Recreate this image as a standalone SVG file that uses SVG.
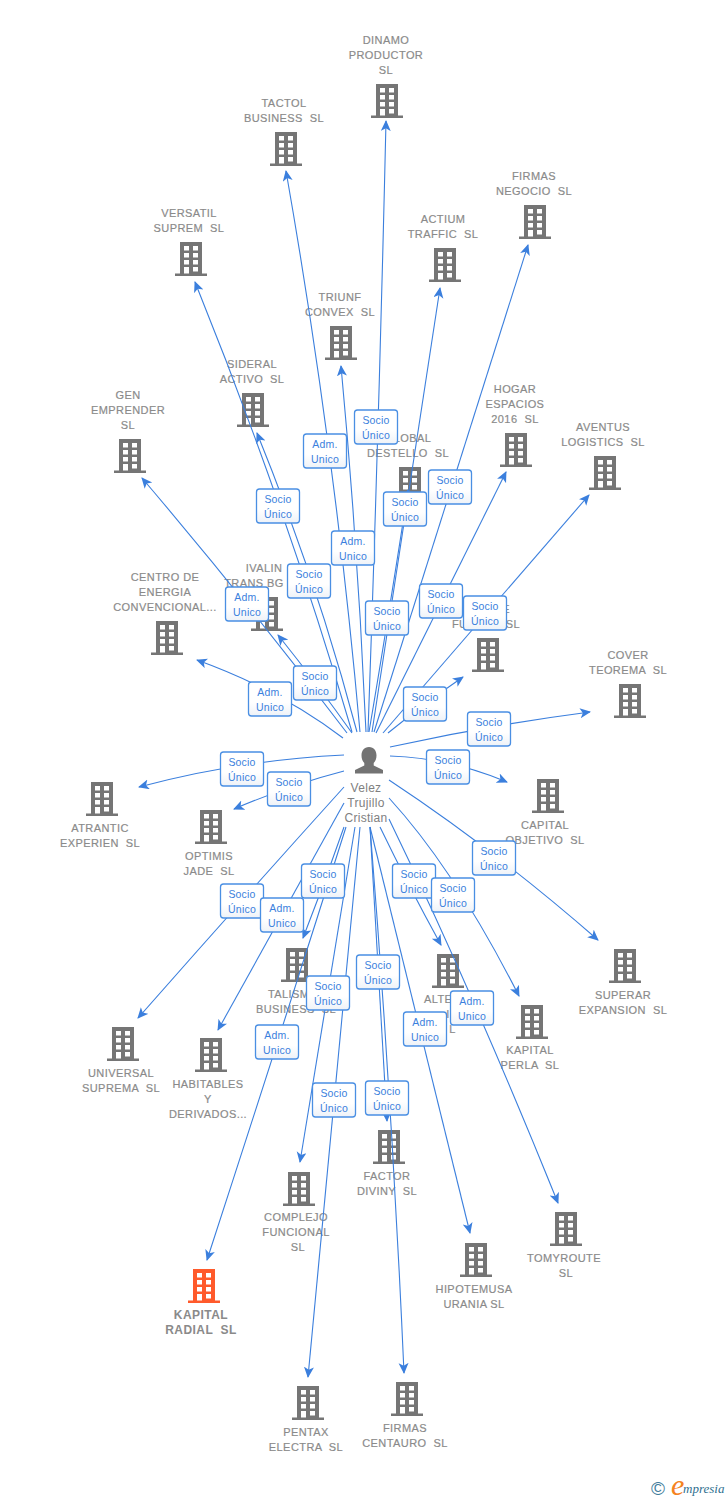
<svg xmlns="http://www.w3.org/2000/svg" width="728" height="1500" viewBox="0 0 728 1500">
<defs>
<linearGradient id="bf" x1="0" y1="0" x2="0" y2="1"><stop offset="0" stop-color="#fff"/><stop offset="0.6" stop-color="#fff"/><stop offset="1" stop-color="#eef2f8"/></linearGradient>
<marker id="ah" markerWidth="13" markerHeight="11" refX="10" refY="5" orient="auto" markerUnits="userSpaceOnUse"><path d="M0 0L11 5L0 10L2.800 5Z" fill="#3b7fdd"/></marker>
<symbol id="b" viewBox="0 0 32 34" width="32" height="34" overflow="visible">
<path fill-rule="evenodd" d="M5 0H27V31.500H32V34H0V31.500H5ZM9 4V8.500H14V4ZM18 4V8.500H23V4ZM9 11V15.500H14V11ZM18 11V15.500H23V11ZM9 18V22.500H14V18ZM18 18V22.500H23V18ZM9 25V31.500H14V25ZM18 25V29.500H23V25Z"/>
</symbol>
<g id="su"><rect x="-21.500" y="-17" width="43" height="34" rx="3" class="lb"/><text class="lt" y="-3.500">Socio</text><text class="lt" y="11.500">Único</text></g>
<g id="au"><rect x="-21.500" y="-17" width="43" height="34" rx="3" class="lb"/><text class="lt" y="-3.500">Adm.</text><text class="lt" y="11.500">Unico</text></g>
</defs>
<style>
.e{fill:none;stroke:#3b7fdd;stroke-width:1.1;marker-end:url(#ah)}
.lb{fill:url(#bf);stroke:#4a8fe3;stroke-width:1.3}
.lt{font:10.500px "Liberation Sans",Arial,sans-serif;fill:#3b7fdd;text-anchor:middle;letter-spacing:.2px}
.n text{font:11px "Liberation Sans",Arial,sans-serif;fill:#8a8a8a;stroke:#8a8a8a;stroke-width:.18;text-anchor:middle;white-space:pre;letter-spacing:.42px}
.n use{fill:#757575}
.n .r use{fill:#ff5a2b}
.n .r text{font:bold 12px "Liberation Sans",Arial,sans-serif;stroke:none;letter-spacing:.45px}
.p{font:12px "Liberation Sans",Arial,sans-serif;fill:#808080;text-anchor:middle;letter-spacing:.3px}
</style>
<g class="n">
<g id="n1"><use href="#b" x="371" y="84"/><text x="386" y="44">DINAMO</text><text x="386" y="59">PRODUCTOR</text><text x="386" y="74">SL</text></g>
<g id="n2"><use href="#b" x="270" y="132"/><text x="284" y="107">TACTOL</text><text x="284" y="122">BUSINESS  SL</text></g>
<g id="n3"><use href="#b" x="175" y="242"/><text x="189" y="217">VERSATIL</text><text x="189" y="232">SUPREM  SL</text></g>
<g id="n4"><use href="#b" x="519" y="205"/><text x="534" y="180">FIRMAS</text><text x="534" y="195">NEGOCIO  SL</text></g>
<g id="n5"><use href="#b" x="429" y="248"/><text x="443" y="223">ACTIUM</text><text x="443" y="238">TRAFFIC  SL</text></g>
<g id="n6"><use href="#b" x="325" y="326"/><text x="340" y="301">TRIUNF</text><text x="340" y="316">CONVEX  SL</text></g>
<g id="n7"><use href="#b" x="237" y="393"/><text x="252" y="368">SIDERAL</text><text x="252" y="383">ACTIVO  SL</text></g>
<g id="n8"><use href="#b" x="114" y="439"/><text x="128" y="399">GEN</text><text x="128" y="414">EMPRENDER</text><text x="128" y="429">SL</text></g>
<g id="n9"><use href="#b" x="500" y="433"/><text x="515" y="393">HOGAR</text><text x="515" y="408">ESPACIOS</text><text x="515" y="423">2016  SL</text></g>
<g id="n10"><use href="#b" x="589" y="456"/><text x="603" y="431">AVENTUS</text><text x="603" y="446">LOGISTICS  SL</text></g>
<g id="n11"><use href="#b" x="394" y="467"/><text x="408" y="442">GLOBAL</text><text x="408" y="457">DESTELLO  SL</text></g>
<g id="n12"><use href="#b" x="151" y="621"/><text x="165" y="581">CENTRO DE</text><text x="165" y="596">ENERGIA</text><text x="165" y="611">CONVENCIONAL...</text></g>
<g id="n13"><use href="#b" x="251" y="597"/><text x="264" y="572">IVALIN</text><text x="254" y="587">TRANS BG</text></g>
<g id="n14"><use href="#b" x="472" y="638"/><text x="510" y="613" style="text-anchor:end">E</text><text x="486" y="628">FU           SL</text></g>
<g id="n15"><use href="#b" x="614" y="684"/><text x="628" y="659">COVER</text><text x="628" y="674">TEOREMA  SL</text></g>
<g id="n16"><use href="#b" x="86" y="782"/><text x="100" y="832">ATRANTIC</text><text x="100" y="847">EXPERIEN  SL</text></g>
<g id="n17"><use href="#b" x="195" y="810"/><text x="209" y="860">OPTIMIS</text><text x="209" y="875">JADE  SL</text></g>
<g id="n18"><use href="#b" x="532" y="779"/><text x="545" y="829">CAPITAL</text><text x="545" y="844">OBJETIVO  SL</text></g>
<g id="n19"><use href="#b" x="281" y="948"/><text x="268" y="998" style="text-anchor:start">TALISM</text><text x="296" y="1013">BUSINESS  SL</text></g>
<g id="n20"><use href="#b" x="432" y="954"/><text x="424" y="1003" style="text-anchor:start">ALTE</text><text x="448" y="1018">I</text><text x="452.500" y="1033">L</text></g>
<g id="n21"><use href="#b" x="609" y="949"/><text x="623" y="999">SUPERAR</text><text x="623" y="1014">EXPANSION  SL</text></g>
<g id="n22"><use href="#b" x="107" y="1027"/><text x="121" y="1077">UNIVERSAL</text><text x="121" y="1092">SUPREMA  SL</text></g>
<g id="n23"><use href="#b" x="195" y="1038"/><text x="208" y="1088">HABITABLES</text><text x="208" y="1103">Y</text><text x="208" y="1118">DERIVADOS...</text></g>
<g id="n24"><use href="#b" x="516" y="1005"/><text x="530" y="1054">KAPITAL</text><text x="530" y="1069">PERLA  SL</text></g>
<g id="n25"><use href="#b" x="373" y="1130"/><text x="387" y="1180">FACTOR</text><text x="387" y="1195">DIVINY  SL</text></g>
<g id="n26"><use href="#b" x="283" y="1172"/><text x="296" y="1221">COMPLEJO</text><text x="296" y="1236">FUNCIONAL</text><text x="298" y="1251">SL</text></g>
<g id="n27"><use href="#b" x="550" y="1212"/><text x="564" y="1262">TOMYROUTE</text><text x="566" y="1277">SL</text></g>
<g id="n28"><use href="#b" x="460" y="1243"/><text x="474" y="1293">HIPOTEMUSA</text><text x="474" y="1308">URANIA SL</text></g>
<g id="n29" class="r"><use href="#b" x="188" y="1269"/><text x="201" y="1319">KAPITAL</text><text x="201" y="1334">RADIAL  SL</text></g>
<g id="n30"><use href="#b" x="292" y="1386"/><text x="306" y="1436">PENTAX</text><text x="306" y="1451">ELECTRA  SL</text></g>
<g id="n31"><use href="#b" x="391" y="1382"/><text x="405" y="1432">FIRMAS</text><text x="405" y="1447">CENTAURO  SL</text></g>
</g>
<g id="connectors">
<path class="e" d="M368 732Q379 425 386 121"/>
<path class="e" d="M360 732Q335 450 286 171"/>
<path class="e" d="M352 732Q286 507 195 282"/>
<path class="e" d="M374 732Q450 490 528 245"/>
<path class="e" d="M372 732Q405 510 440 288"/>
<path class="e" d="M366 732Q358 548 341 366"/>
<path class="e" d="M357 732Q317 581 257 433"/>
<path class="e" d="M347 733Q250 605 142 478"/>
<path class="e" d="M352 733Q318 685 278 635"/>
<path class="e" d="M343 738Q280 690 197 660"/>
<path class="e" d="M376 733Q440 605 506 472"/>
<path class="e" d="M383 733Q485 615 589 495"/>
<path class="e" d="M369 732Q388 620 408 490"/>
<path class="e" d="M388 733Q425 703 463 677"/>
<path class="e" d="M390 747Q490 725 590 712"/>
<path class="e" d="M390 756Q450 758 507 782"/>
<path class="e" d="M344 755Q240 760 139 787"/>
<path class="e" d="M344 771Q290 785 234 809"/>
<path class="e" d="M389 780Q495 850 598 940"/>
<path class="e" d="M389 798Q455 870 519 996"/>
<path class="e" d="M389 819Q472 990 558 1203"/>
<path class="e" d="M380 827Q408 885 441 945"/>
<path class="e" d="M370 827Q420 1030 470 1233"/>
<path class="e" d="M370 827Q379 975 387 1121"/>
<path class="e" d="M370 827Q392 1100 404 1373"/>
<path class="e" d="M355 827Q328 995 300 1162"/>
<path class="e" d="M360 827Q334 1100 308 1377"/>
<path class="e" d="M346 827Q278 1042 207 1260"/>
<path class="e" d="M344 827Q325 882 303 938"/>
<path class="e" d="M344 803Q282 915 218 1030"/>
<path class="e" d="M344 787Q242 900 138 1018"/>
</g>
<g id="labels">
<use href="#su" x="376" y="427"/>
<use href="#au" x="325" y="451"/>
<use href="#su" x="450" y="487"/>
<use href="#su" x="405" y="509"/>
<use href="#su" x="278" y="506"/>
<use href="#au" x="353" y="548"/>
<use href="#su" x="309" y="581"/>
<use href="#au" x="247" y="604"/>
<use href="#su" x="441" y="601"/>
<use href="#su" x="485" y="613"/>
<use href="#su" x="387" y="618"/>
<use href="#su" x="315" y="683"/>
<use href="#au" x="270" y="699"/>
<use href="#su" x="425" y="704"/>
<use href="#su" x="489" y="729"/>
<use href="#su" x="242" y="769"/>
<use href="#su" x="448" y="767"/>
<use href="#su" x="289" y="789"/>
<use href="#su" x="494" y="858"/>
<use href="#su" x="323" y="881"/>
<use href="#su" x="414" y="881"/>
<use href="#su" x="453" y="895"/>
<use href="#su" x="242" y="901"/>
<use href="#au" x="282" y="915"/>
<use href="#su" x="378" y="972"/>
<use href="#su" x="328" y="993"/>
<use href="#au" x="472" y="1008"/>
<use href="#au" x="425" y="1029"/>
<use href="#au" x="277" y="1042"/>
<use href="#su" x="334" y="1100"/>
<use href="#su" x="387" y="1098"/>
</g>
<g id="person"><path d="M369 747c5 0 7.500 4 7.500 8.500 0 3-1 5.500-2.800 7.500v2.500l9.300 4.500v3.500H355v-3.500l9.300-4.500V763c-1.800-2-2.800-4.500-2.800-7.500 0-4.500 2.500-8.500 7.500-8.500Z" fill="#737373"/>
<text class="p" x="366" y="792">Velez</text><text class="p" x="366" y="807">Trujillo</text><text class="p" x="366" y="822">Cristian</text></g>
<g id="logo">
<text x="658" y="1495" font-family="Liberation Sans,sans-serif" font-size="19" fill="#3f7d9c" text-anchor="middle">©</text>
<text x="671" y="1495" font-family="Liberation Serif,serif" font-style="italic" font-size="30" fill="#f58220">e</text>
<text x="683" y="1493" font-family="Liberation Serif,serif" font-style="italic" font-size="13" fill="#2f6f8f">mpresia</text>
</g>
</svg>
